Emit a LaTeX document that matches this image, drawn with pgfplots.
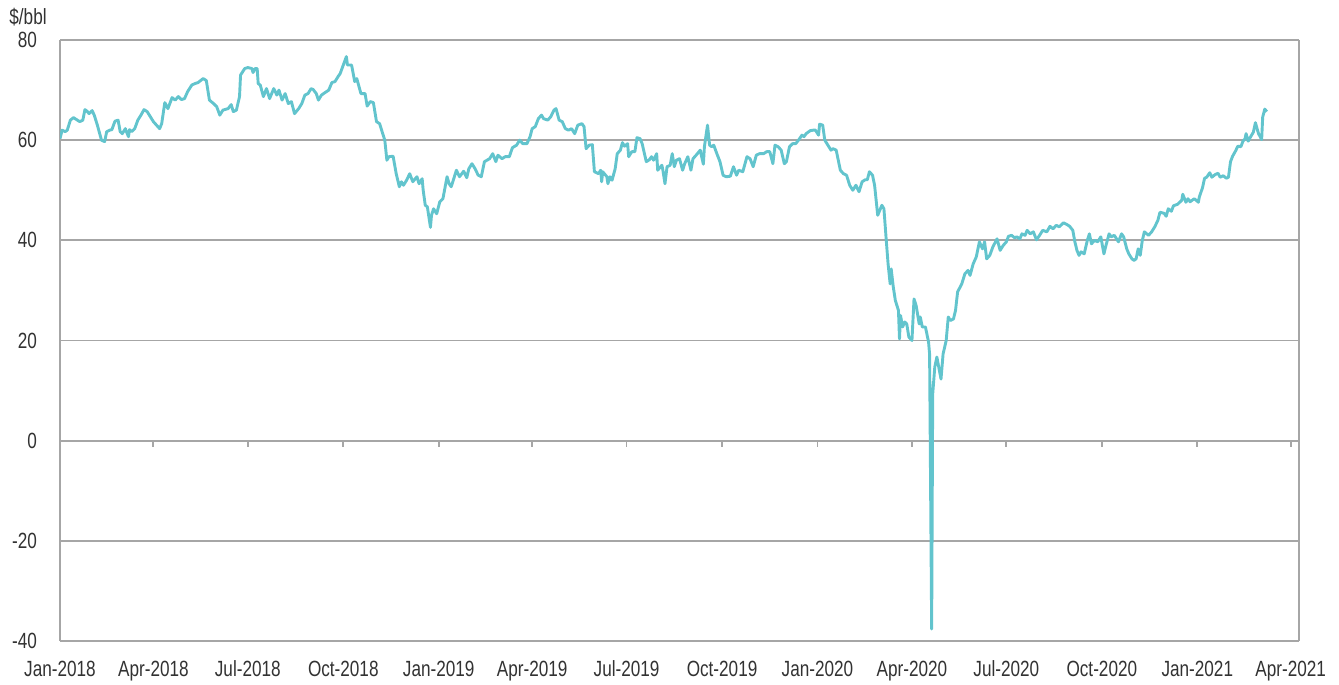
\documentclass[border=0pt]{standalone}
\usepackage{fontspec}
\setmainfont{Liberation Sans}[FakeStretch=0.78]
\usepackage{pgfplots}
\pgfplotsset{compat=1.18}
\usepackage{pgfplotstable}
\definecolor{wticol}{RGB}{98,196,205}
\definecolor{gridc}{RGB}{166,166,166}
\definecolor{txt}{RGB}{50,50,50}

\pgfplotstableread{
d v
0 60.3
2 62
5 61.7
7 62
10 64
13 64.5
16 64.1
19 63.7
22 64
24 66.1
26 65.8
28 65.3
31 65.9
33 65
36 63
40 60
43 59.7
45 61.7
48 62
50 62.1
53 63.8
56 64
58 61.7
60 61.3
63 62.3
64 61.7
66 60.7
67 62.1
69 61.7
72 62.3
75 64
78 65
81 66.1
84 65.7
87 64.7
90 63.7
93 63
96 62.3
98 63.3
101 67.5
104 66.3
108 68.5
111 68
114 68.7
117 68.1
120 68.3
123 69.7
127 71
130 71.3
133 71.5
138 72.3
141 71.9
144 68
148 67.3
151 66.7
154 65
157 66
162 66.3
165 67.1
167 65.7
170 66
173 68.7
174 73
178 74.3
181 74.5
185 74.3
186 73.5
188 74.3
190 74.3
191 71.3
193 71
196 68.7
199 70.3
202 68.3
206 70.3
209 69
211 70
214 68
217 69.3
220 67.3
223 67.7
226 65.3
230 66.3
233 67.3
236 69
239 69.3
242 70.3
244 70.1
247 69.3
249 68
252 69
254 69.3
259 70
262 71.5
265 71.7
268 72.7
270 73.3
273 75
276 76.7
277 75
281 75
284 71.7
286 72.3
290 69.3
294 69.3
296 66.8
299 67.7
302 67.5
305 63.7
308 63.3
311 61.3
313 60
315 56
317 56.7
321 56.8
324 53.3
327 50.7
329 51.7
331 51
334 52
337 53.3
340 51.7
344 52.7
346 51.3
349 52.3
350 50
352 47
354 46.7
357 42.6
358 45
360 46.3
363 45.3
366 47.7
369 48.3
373 52.7
375 51.3
377 50.7
379 52
382 54
385 52.7
389 53.8
392 52.5
394 54.3
397 55.3
400 54.3
403 53
406 52.7
409 55.7
414 56.3
417 57.3
420 55.7
422 57
426 56.3
429 56.7
433 56.7
436 58.5
440 59
443 60
446 59.3
450 59.3
453 60.7
455 62.3
458 62.7
461 64.3
464 65
466 64.3
470 64
473 64.7
476 66
478 66.3
481 64
484 63.7
487 62.3
490 62
493 62.3
496 61.3
499 63
503 63.3
505 62.7
507 58.3
510 59
513 59.1
515 53.7
519 53.3
521 54
522 51.7
523 53.7
527 52.7
528 51.3
530 52.7
532 52
535 54.3
537 57.3
540 58
542 59.5
544 58.8
547 59.3
548 56.7
551 57.7
554 57.7
556 60.5
559 60.3
561 59.3
565 55.7
568 56.1
570 56.7
572 56
575 57.3
576 54
580 55
581 54
583 51.3
585 54.7
588 55
590 57.3
592 54.7
594 56
597 56.3
600 54
602 55.3
605 56.7
608 54
610 56.3
613 57
617 58
618 57
620 55.2
621 58.7
624 63
626 59
628 58.7
630 59
633 57.3
636 55.7
639 53
642 52.7
646 52.8
649 54.7
652 53
654 54
658 53.7
662 56.7
665 56.3
668 54.7
671 57
674 57.3
678 57.3
681 57.7
684 57.7
687 55.3
689 59
692 58.7
695 58
698 55.3
700 55.7
703 58.7
706 59.3
709 59.3
712 60.1
715 61
717 60.7
719 61.3
723 61.9
726 62
728 62
731 61
732 63.2
735 63
737 60
740 59
743 58
745 58.3
748 58
752 54
755 53.3
758 53
761 51
764 50
767 51
770 49.7
773 51.7
776 52.1
778 52.1
780 53.7
783 53
785 51
788 45
792 47
794 46.3
796 40.7
798 35.3
800 31.3
801 34.3
803 30.7
805 28
808 26
809 20.3
810 25
812 22.7
814 23.7
816 23.3
818 20.7
821 20
823 28.3
825 27
828 23.3
829 24.7
831 22.7
834 22.7
837 19.7
838 17.3
840 -37.6
841 9.3
843 14.7
845 16.7
849 12.3
851 17.3
854 20
856 24.7
858 24
861 24.3
863 26
865 29.7
869 31.3
872 33.3
875 34
877 33
880 35.3
883 36.7
886 39.7
889 38.3
891 39.7
893 36.3
896 37
899 38.7
903 40.3
906 38
909 39
912 39.7
914 40.8
917 41
920 40.5
922 40.7
925 40.3
927 41.3
930 41
932 42
935 41.3
938 41.7
941 40.1
944 41
947 42
951 41.7
954 42.8
957 42.3
960 43
963 42.7
967 43.5
970 43.2
973 42.8
976 42
978 39.7
980 38
982 37
984 37.7
987 37.3
990 40
992 41.3
994 39.3
997 40
1000 39.7
1003 40.7
1006 37.3
1008 39
1011 41.3
1013 40.7
1016 41
1020 39.7
1023 41.3
1025 40.7
1028 38.3
1030 37.3
1033 36.3
1035 36
1037 36.3
1039 38.3
1041 37
1043 40
1045 41.7
1049 41
1052 41.7
1055 42.7
1058 44
1060 45.6
1064 45.4
1066 44.8
1068 46.3
1071 45.8
1073 46.9
1077 47.2
1081 48
1082 49.2
1085 47.6
1087 48.3
1089 47.7
1093 48.3
1095 48
1097 47.6
1098 48.7
1101 50.5
1103 52.4
1105 52.6
1108 53.5
1110 52.6
1113 53.1
1116 53.4
1118 52.6
1121 52.9
1124 52.4
1126 52.6
1128 55.7
1130 56.8
1133 57.9
1135 58.8
1138 58.7
1140 59.8
1142 60.3
1143 61.3
1145 59.8
1148 60.9
1150 61.6
1152 63.5
1154 62
1155 61.3
1158 60.1
1159 64.6
1161 66.2
1163 65.7
}\wtidata

\begin{document}
\begin{tikzpicture}
\useasboundingbox (-30pt,-22pt) rectangle (639.5pt,320.5pt);
\begin{axis}[
  at={(0,0)}, anchor=south west,
  scale only axis, width=619.5pt, height=300.5pt,
  xmin=0, xmax=1194, ymin=-40, ymax=80,
  axis x line=middle, axis y line=box,
  axis line style={gridc, line width=0.9pt, -},
  every inner x axis line/.append style={-},
  every outer y axis line/.append style={-},
  hide obscured x ticks=false, hide obscured y ticks=false,
  xtick={0,90,181,273,365,455,546,638,730,821,912,1004,1096,1186},
  xticklabels={Jan-2018,Apr-2018,Jul-2018,Oct-2018,Jan-2019,Apr-2019,Jul-2019,Oct-2019,Jan-2020,Apr-2020,Jul-2020,Oct-2020,Jan-2021,Apr-2021},
  ytick={-40,-20,0,20,40,60,80},
  ymajorgrids, grid style={gridc, line width=0.9pt},
  tick align=outside,
  major tick length=3pt,
  major x tick style={gridc, line width=0.9pt},
  major y tick style={draw=none},
  xticklabel style={yshift=-103.5pt},
  yticklabel style={xshift=-5pt},
  tick label style={font=\fontsize{11}{13}\selectfont, text=txt},
  /pgf/number format/assume math mode=true,
]
\addplot[wticol, line width=1.45pt, line join=round, no markers] table[x=d, y=v] {\wtidata};
\end{axis}
\node[anchor=west, inner sep=0pt, text=txt, font=\fontsize{11}{13}\selectfont] at (-25.5pt,312pt) {\$/bbl};
\end{tikzpicture}
\end{document}
